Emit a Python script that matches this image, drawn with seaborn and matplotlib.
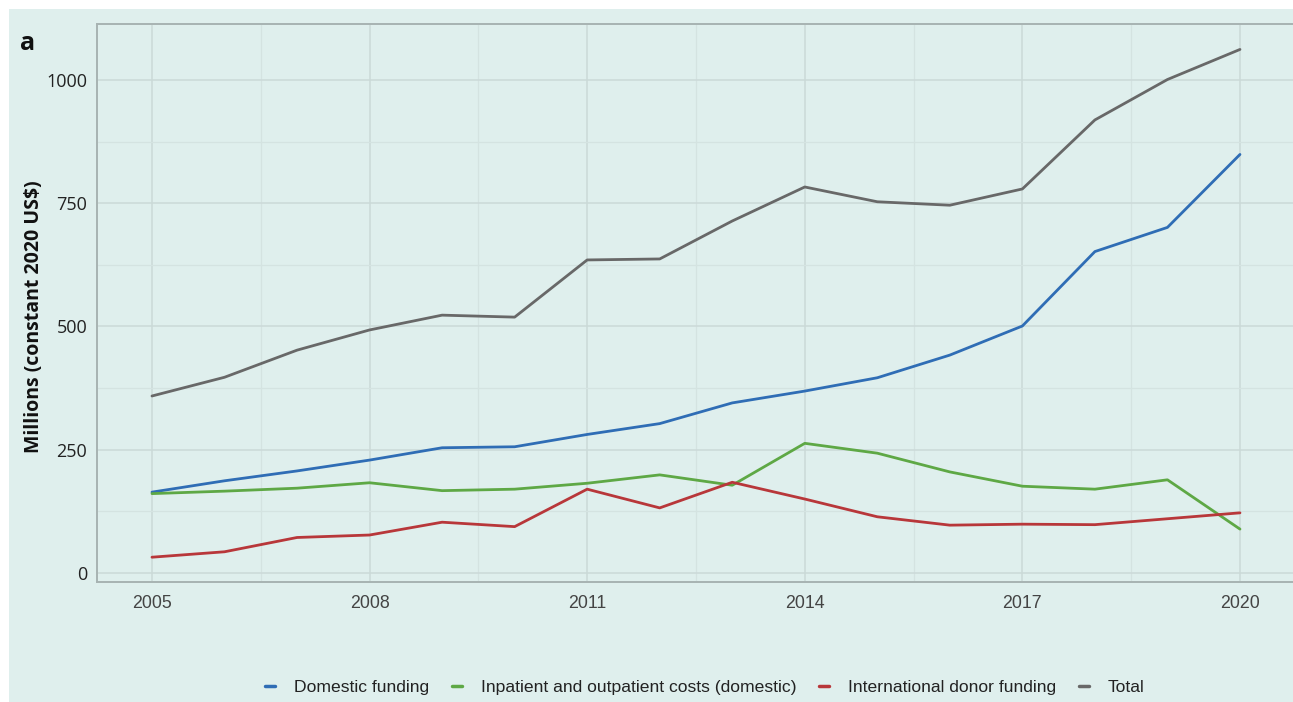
import numpy as np
import pandas as pd
import matplotlib
matplotlib.use("Agg")
import matplotlib.pyplot as plt
from matplotlib.lines import Line2D
from matplotlib.patches import Rectangle
from matplotlib.ticker import FixedLocator
import seaborn as sns

years = list(range(2005, 2021))
domestic = [164, 187, 207, 229, 254, 256, 281, 303, 345, 369, 396, 442, 501, 652, 701, 849]
inpatient = [161, 166, 172, 183, 167, 170, 182, 199, 178, 263, 243, 205, 176, 170, 189, 89]
donor = [32, 43, 72, 77, 103, 94, 170, 132, 184, 150, 114, 97, 99, 98, 110, 122]
total = [359, 397, 452, 493, 523, 519, 635, 637, 714, 783, 753, 746, 779, 919, 1001, 1062]

series_names = [
    "Domestic funding",
    "Inpatient and outpatient costs (domestic)",
    "International donor funding",
    "Total",
]
series_values = [domestic, inpatient, donor, total]
colors = ["#2f6db5", "#5ea845", "#b8373a", "#686868"]
palette = dict(zip(series_names, colors))

x_ticks = [2005, 2008, 2011, 2014, 2017, 2020]
x_minor = [2006.5, 2009.5, 2012.5, 2015.5, 2018.5]
y_ticks = [0, 250, 500, 750, 1000]
y_minor = [125, 375, 625, 875]

df = pd.concat(
    [pd.DataFrame({"year": years, "value": v, "series": n})
     for n, v in zip(series_names, series_values)],
    ignore_index=True,
)

sns.set_theme(style="white")
plt.rcParams["font.family"] = ["Liberation Sans", "DejaVu Sans"]

bg = "#dfefed"
fig = plt.figure(figsize=(12.93, 7.02), dpi=100, facecolor="white")
fig.patches.append(Rectangle((9 / 1293, 0), 1 - 9 / 1293, 1 - 9 / 702,
                             transform=fig.transFigure, facecolor=bg,
                             edgecolor="none", zorder=-10))

ax = fig.add_axes([97 / 1293, 120 / 702, 1 - 97 / 1293, 558 / 702])
ax.set_facecolor(bg)

sns.lineplot(data=df, x="year", y="value", hue="series", palette=palette,
             hue_order=series_names, linewidth=2.0, ax=ax, legend=False,
             zorder=3)

ax.set_xlim(2004.242, 2020.731)
ax.set_ylim(-18.3, 1113.6)

ax.xaxis.set_major_locator(FixedLocator(x_ticks))
ax.xaxis.set_minor_locator(FixedLocator(x_minor))
ax.yaxis.set_major_locator(FixedLocator(y_ticks))
ax.yaxis.set_minor_locator(FixedLocator(y_minor))
ax.set_xticklabels([str(t) for t in x_ticks])
ax.grid(which="major", color="#cbd9d8", linewidth=1.1, zorder=0)
ax.grid(which="minor", color="#d4e3e1", linewidth=0.9, zorder=0)
ax.set_axisbelow(True)

for side in ["left", "top", "bottom"]:
    ax.spines[side].set_visible(True)
    ax.spines[side].set_color("#a7b3b2")
    ax.spines[side].set_linewidth(1.4)
ax.spines["right"].set_visible(False)

ax.tick_params(axis="x", which="both", length=0, pad=9, labelsize=12.8,
               labelcolor="#444444")
ax.tick_params(axis="y", which="major", length=4, width=1, color="#a7b3b2",
               pad=3, labelsize=13, labelcolor="#222222")
ax.tick_params(axis="y", which="minor", length=0)
for lab in ax.get_yticklabels():
    lab.set_family(["Open Sans", "DejaVu Sans"])

ax.set_xlabel("")
ax.set_ylabel("Millions (constant 2020 US$)", fontsize=14, fontweight="bold",
              family=["Open Sans", "DejaVu Sans"], color="#111111",
              va="center")
ax.yaxis.set_label_coords(-0.053, 0.475)

fig.text(20 / 1293, 1 - 44 / 702, "a", fontsize=18, fontweight="bold",
         family=["Open Sans", "DejaVu Sans"], va="center", ha="left",
         color="#111111")

handles = [Line2D([0], [0], color=c, linewidth=2.5) for c in colors]
fig.legend(handles, series_names, loc="center", ncol=4,
           bbox_to_anchor=(705 / 1293, 15 / 702), frameon=False,
           fontsize=12.6, handlelength=0.55, handletextpad=1.1,
           columnspacing=1.3, labelcolor="#222222")

fig.savefig("out.png", dpi=100, facecolor="white")
